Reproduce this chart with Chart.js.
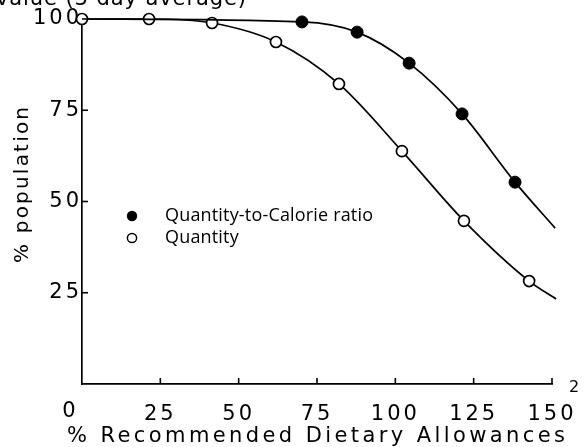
<!DOCTYPE html>
<html>
<head>
<meta charset="utf-8">
<script src="https://cdn.jsdelivr.net/npm/chart.js@4/dist/chart.umd.min.js"></script>
<style>
html,body{margin:0;padding:0;background:#fff;}
#wrap{width:584px;height:447px;position:relative;}
</style>
</head>
<body>
<div id="wrap"><canvas id="c" width="584" height="447"></canvas></div>
<script>
// ---- data ----
const xTickValues = [0, 25, 50, 75, 100, 125, 150];
const yTickValues = [25, 50, 75, 100];
const quantityX = [0, 21.4, 41.5, 61.9, 82.0, 102.1, 121.9, 142.7, 151.3];
const quantityY = [100, 100, 98.9, 93.7, 82.2, 63.8, 44.7, 28.2, 23.3];
const quantityMarked = [true, true, true, true, true, true, true, true, false];
const ratioX = [0, 70.2, 87.8, 104.4, 121.3, 138.2, 151.0];
const ratioY = [100, 99.2, 96.4, 87.9, 74.0, 55.3, 42.7];
const ratioMarked = [false, true, true, true, true, true, false];
const seriesNames = ['Quantity-to-Calorie ratio', 'Quantity'];
const xTitle = '% Recommended Dietary Allowances';
const yTitle = '% population';
const topFragment = 'value (3 day average)';

const toPts = (xs, ys) => xs.map((x, i) => ({x: x, y: ys[i]}));

const AXIS_FONT = 'DejaVu Sans';

function fitSpacing(ctx, text, target) {
  ctx.letterSpacing = '0px';
  const w = ctx.measureText(text).width;
  return Math.max(0, (target - w) / (text.length - 1));
}

const decorPlugin = {
  id: 'decor',
  beforeLayout(chart) { chart.ctx.letterSpacing = '3px'; },
  beforeDraw(chart) { chart.ctx.letterSpacing = '3px'; },
  afterDraw(chart) {
    const ctx = chart.ctx;
    const xs = chart.scales.x, ys = chart.scales.y;
    ctx.save();
    ctx.strokeStyle = '#000';
    ctx.lineWidth = 1.6;
    // inward tick marks
    yTickValues.forEach(v => {
      if (v === 100) return;
      const py = ys.getPixelForValue(v);
      ctx.beginPath(); ctx.moveTo(xs.left, py); ctx.lineTo(xs.left + 6, py); ctx.stroke();
    });
    xTickValues.forEach(v => {
      if (v === 0) return;
      const px = xs.getPixelForValue(v);
      ctx.beginPath(); ctx.moveTo(px, ys.bottom); ctx.lineTo(px, ys.bottom - 6); ctx.stroke();
    });
    ctx.fillStyle = '#000';
    // origin "0" label
    ctx.letterSpacing = '0px';
    ctx.font = '21px "' + AXIS_FONT + '"';
    ctx.textAlign = 'center';
    ctx.textBaseline = 'middle';
    ctx.fillText('0', xs.getPixelForValue(0) - 13, 412);
    // x title
    ctx.font = '21px "' + AXIS_FONT + '"';
    let ls = fitSpacing(ctx, xTitle, 498);
    ctx.letterSpacing = ls + 'px';
    ctx.textAlign = 'left';
    ctx.textBaseline = 'alphabetic';
    ctx.fillText(xTitle, 67, 442);
    // y title
    ctx.save();
    ctx.translate(28, 263);
    ctx.rotate(-Math.PI / 2);
    ctx.font = '20px "' + AXIS_FONT + '"';
    ls = fitSpacing(ctx, yTitle, 156);
    ctx.letterSpacing = ls + 'px';
    ctx.fillText(yTitle, 0, 0);
    ctx.restore();
    // top fragment (clipped caption)
    ctx.font = '21px "' + AXIS_FONT + '"';
    ls = fitSpacing(ctx, topFragment, 250);
    ctx.letterSpacing = ls + 'px';
    ctx.fillText(topFragment, -4, 5);
    // page mark
    ctx.letterSpacing = '0px';
    ctx.font = '16px "' + AXIS_FONT + '"';
    ctx.fillText('2', 569, 392);
    // legend
    ctx.font = '18px "Open Sans"';
    ls = fitSpacing(ctx, seriesNames[0], 208);
    ctx.letterSpacing = ls + 'px';
    ctx.textBaseline = 'middle';
    ctx.beginPath(); ctx.arc(132, 216, 5.2, 0, Math.PI * 2); ctx.fill();
    ctx.fillText(seriesNames[0], 165, 216);
    ctx.beginPath(); ctx.arc(132, 238, 4.6, 0, Math.PI * 2);
    ctx.fillStyle = '#fff'; ctx.fill(); ctx.lineWidth = 1.5; ctx.stroke();
    ctx.fillStyle = '#000';
    ctx.fillText(seriesNames[1], 165, 238);
    ctx.restore();
  }
};

new Chart(document.getElementById('c'), {
  type: 'scatter',
  data: {
    datasets: [
      {
        label: seriesNames[0],
        data: toPts(ratioX, ratioY),
        showLine: true,
        borderColor: '#000',
        borderWidth: 1.7,
        backgroundColor: '#000',
        pointBackgroundColor: '#000',
        pointBorderColor: '#000',
        pointRadius: ratioMarked.map(m => m ? 6 : 0),
        pointBorderWidth: 1,
        tension: 0.4,
        cubicInterpolationMode: 'monotone',
        clip: false
      },
      {
        label: seriesNames[1],
        data: toPts(quantityX, quantityY),
        showLine: true,
        borderColor: '#000',
        borderWidth: 1.7,
        backgroundColor: '#fff',
        pointBackgroundColor: '#fff',
        pointBorderColor: '#000',
        pointRadius: quantityMarked.map(m => m ? 5.5 : 0),
        pointBorderWidth: 1.7,
        tension: 0.4,
        cubicInterpolationMode: 'monotone',
        clip: false
      }
    ]
  },
  options: {
    responsive: false,
    animation: false,
    layout: { padding: { top: 19, right: 32, left: 0, bottom: 0 } },
    plugins: { legend: { display: false }, tooltip: { enabled: false } },
    scales: {
      x: {
        type: 'linear',
        min: 0, max: 150,
        afterBuildTicks(s) { s.ticks = xTickValues.map(v => ({value: v})); },
        afterFit(s) { s.height = 63; s.paddingLeft = 0; s.paddingRight = 0; },
        grid: { display: false, drawTicks: false },
        border: { display: true, color: '#000', width: 1.7 },
        ticks: {
          color: '#000',
          font: { family: AXIS_FONT, size: 21 },
          padding: 18,
          maxRotation: 0,
          autoSkip: false,
          callback: (v) => v === 0 ? '' : String(v)
        }
      },
      y: {
        type: 'linear',
        min: 0, max: 100,
        afterBuildTicks(s) { s.ticks = yTickValues.map(v => ({value: v})); },
        afterFit(s) { s.width = 82; s.paddingTop = 0; s.paddingBottom = 0; },
        grid: { display: false, drawTicks: false },
        border: { display: true, color: '#000', width: 1.7 },
        ticks: {
          color: '#000',
          font: { family: AXIS_FONT, size: 21 },
          padding: 0,
          autoSkip: false,
          callback: (v) => String(v)
        }
      }
    }
  },
  plugins: [decorPlugin]
});
</script>
</body>
</html>
